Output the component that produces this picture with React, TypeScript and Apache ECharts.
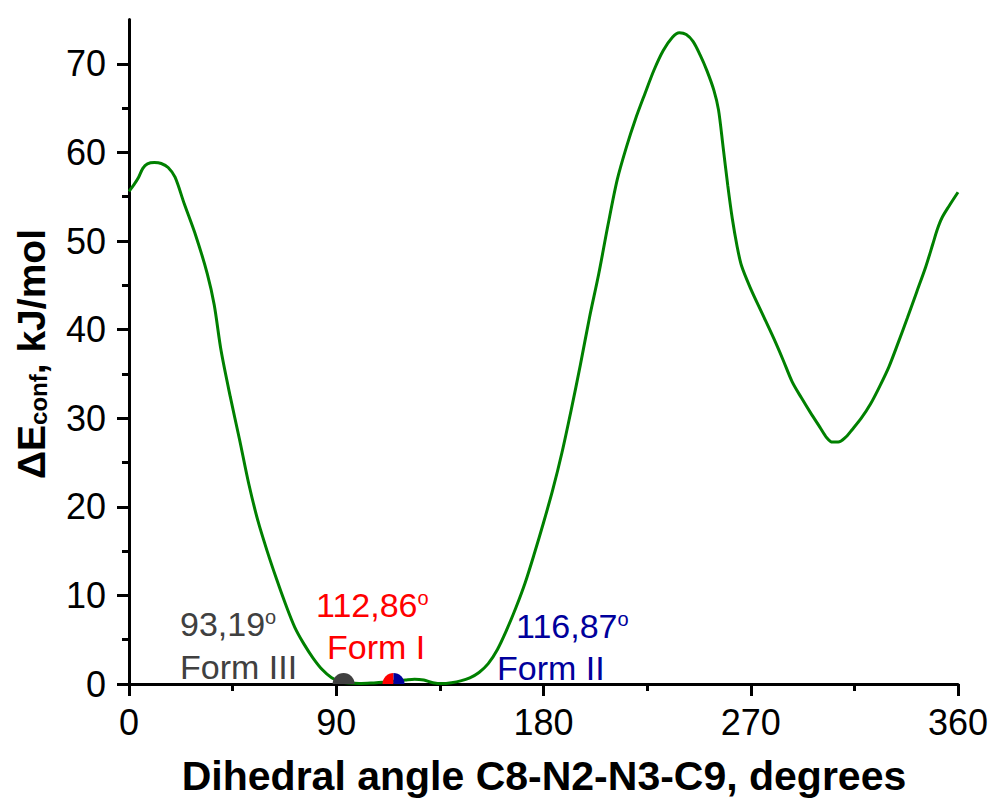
import React, { useEffect, useRef } from "react";
import * as echarts from "echarts";

// Dihedral angle (degrees) and conformational energy (kJ/mol)
const angles = [
  0, 2, 4, 6, 8, 11, 14, 17, 20, 24, 29, 34, 37, 40, 44, 48, 52, 56, 60, 64, 68, 72, 76, 80, 84, 88,
  92, 96, 100, 105, 110, 115, 120, 124, 128, 132, 136, 140, 144, 148, 152, 156, 160, 164, 168, 172,
  176, 180, 184, 188, 192, 196, 200, 204, 208, 212, 216, 220, 224, 228, 232, 236, 239, 242, 245, 248,
  251, 254, 256, 258, 260, 262, 264, 266, 270, 275, 280, 284, 288, 292, 296, 300, 303, 305.5, 308,
  311, 314, 318, 322, 326, 330, 334, 338, 342, 346, 349, 351, 353, 356, 360,
];
const energies = [
  55.6, 56.3, 57.1, 58.2, 58.7, 58.85, 58.75, 58.3, 57.2, 54.2, 50.6, 46.3, 42.8, 37.6, 32.4, 27.6,
  22.6, 18.4, 15.0, 11.9, 9.0, 6.4, 4.5, 2.9, 1.6, 0.7, 0.25, 0.1, 0.05, 0.1, 0.2, 0.3, 0.45, 0.55,
  0.45, 0.15, 0.05, 0.15, 0.35, 0.7, 1.3, 2.3, 3.9, 6.1, 8.6, 11.4, 14.7, 18.2, 21.9, 26.1, 30.9,
  36.0, 41.4, 46.3, 51.8, 56.9, 60.6, 63.8, 66.6, 69.3, 71.5, 73.0, 73.5, 73.3, 72.5, 71.0, 69.2,
  67.0, 64.8, 60.6, 56.3, 52.5, 49.5, 47.2, 44.6, 41.8, 39.0, 36.6, 34.1, 32.3, 30.6, 29.0, 27.8,
  27.3, 27.3, 27.8, 28.7, 30.0, 31.6, 33.6, 35.8, 38.5, 41.3, 44.2, 47.1, 49.6, 51.3, 52.6, 53.9, 55.5,
];

// Polymorph forms (angle, energy)
const formNames = ["Form III", "Form I", "Form II"];
const formAngles = [93.19, 112.86, 116.87];
const formLabels = ["93,19", "112,86", "116,87"];
const formEnergy = [0, 0, 0];
const formColors = ["#404040", "#ff0000", "#00009c"];

// Axis ticks
const xMin = 0;
const xMax = 360;
const xInterval = 90;
const yMin = 0;
const yMax = 75;
const yMajorTicks = [0, 10, 20, 30, 40, 50, 60, 70];
const yMinorTicks = [5, 15, 25, 35, 45, 55, 65];

const FONT = "'Liberation Sans', Arial, sans-serif";

export default function App() {
  const ref = useRef<HTMLDivElement>(null);

  useEffect(() => {
    if (!ref.current) return;
    const chart = echarts.init(ref.current, undefined, { renderer: "svg" });

    const lineData = angles.map((a, i) => [a, energies[i]]);
    // Form III: upper half-disc; Form I / Form II: shared disc split red | blue
    const pairCenter = (formAngles[1] + formAngles[2]) / 2;
    const markerData = [
      [formAngles[0], formEnergy[0], Math.PI, 2 * Math.PI, 0],
      [pairCenter, formEnergy[1], Math.PI, 1.5 * Math.PI, 1],
      [pairCenter, formEnergy[2], 1.5 * Math.PI, 2 * Math.PI, 2],
    ];

    const annot = (
      x: number,
      y: number,
      text: string,
      color: string,
      withDeg: boolean
    ) => ({
      type: "text",
      x,
      y,
      z: 20,
      style: {
        text: withDeg ? `{v|${text}}{s|o}` : `{v|${text}}`,
        rich: {
          v: { fontSize: 34, fontFamily: FONT, fill: color, textFill: color },
          s: {
            fontSize: 20,
            fontFamily: FONT,
            fill: color,
            textFill: color,
            verticalAlign: "top",
          },
        },
        fill: color,
        align: "left",
        textAlign: "left",
        verticalAlign: "middle",
        textVerticalAlign: "middle",
      },
    });

    const option: any = {
      animation: false,
      backgroundColor: "#ffffff",
      grid: {
        left: 129,
        right: 37,
        top: 19.5,
        bottom: 120,
        containLabel: false,
        outerBoundsMode: "none",
      },
      xAxis: {
        type: "value",
        min: xMin,
        max: xMax,
        interval: xInterval,
        axisLine: { show: true, onZero: false, lineStyle: { color: "#000", width: 3 } },
        axisTick: { show: true, inside: false, length: 12, lineStyle: { color: "#000", width: 3 } },
        minorTick: { show: true, splitNumber: 2, length: 7, lineStyle: { color: "#000", width: 3 } },
        axisLabel: {
          show: true,
          margin: 20,
          fontSize: 36,
          fontFamily: FONT,
          color: "#000",
        },
        splitLine: { show: false },
        minorSplitLine: { show: false },
      },
      yAxis: [
        {
          type: "value",
          position: "left",
          offset: 0,
          min: yMin,
          max: yMax,
          interval: 10,
          axisLine: { show: true, onZero: false, lineStyle: { color: "#000", width: 3 } },
          axisTick: {
            show: true,
            inside: false,
            length: 12,
            customValues: yMajorTicks,
            lineStyle: { color: "#000", width: 3 },
          },
          axisLabel: {
            show: true,
            margin: 23,
            fontSize: 36,
            fontFamily: FONT,
            color: "#000",
            customValues: yMajorTicks,
          },
          splitLine: { show: false },
        },
        {
          type: "value",
          position: "left",
          offset: 0,
          min: yMin,
          max: yMax,
          interval: 10,
          axisLine: { show: false },
          axisTick: {
            show: true,
            inside: false,
            length: 7,
            customValues: yMinorTicks,
            lineStyle: { color: "#000", width: 3 },
          },
          axisLabel: { show: false },
          splitLine: { show: false },
        },
      ],
      series: [
        {
          type: "line",
          data: lineData,
          xAxisIndex: 0,
          yAxisIndex: 0,
          showSymbol: false,
          symbol: "none",
          smooth: 0.3,
          lineStyle: { color: "#008000", width: 3 },
          z: 3,
        },
        {
          type: "custom",
          xAxisIndex: 0,
          yAxisIndex: 0,
          z: 5,
          clip: false,
          data: markerData,
          renderItem: (params: any, api: any) => {
            const p = api.coord([api.value(0), api.value(1)]);
            const ci = api.value(4);
            return {
              type: "sector",
              shape: {
                cx: p[0],
                cy: p[1],
                r0: 0,
                r: 11,
                startAngle: api.value(2),
                endAngle: api.value(3),
                clockwise: true,
              },
              style: { fill: formColors[ci] },
            };
          },
        },
      ],
      graphic: [
        {
          type: "text",
          x: 544,
          y: 776,
          style: {
            text: "Dihedral angle C8-N2-N3-C9, degrees",
            fontSize: 41,
            fontWeight: "bold",
            fontFamily: FONT,
            fill: "#000",
            align: "center",
            textAlign: "center",
            verticalAlign: "middle",
            textVerticalAlign: "middle",
          },
        },
        {
          type: "text",
          x: 31,
          y: 354,
          rotation: Math.PI / 2,
          style: {
            text: "{a|ΔE}{b|conf}{a|, kJ/mol}",
            rich: {
              a: { fontSize: 39, fontWeight: "bold", fontFamily: FONT, fill: "#000", textFill: "#000" },
              b: {
                fontSize: 24,
                fontWeight: "bold",
                fontFamily: FONT,
                fill: "#000",
                textFill: "#000",
                verticalAlign: "bottom",
              },
            },
            fill: "#000",
            align: "center",
            textAlign: "center",
            verticalAlign: "middle",
            textVerticalAlign: "middle",
          },
        },
        annot(180, 624, formLabels[0], formColors[0], true),
        annot(180, 667, formNames[0], formColors[0], false),
        annot(316, 605, formLabels[1], formColors[1], true),
        annot(327, 647, formNames[1], formColors[1], false),
        annot(516, 626, formLabels[2], formColors[2], true),
        annot(497, 668, formNames[2], formColors[2], false),
      ],
    };

    chart.setOption(option);
    return () => {
      chart.dispose();
    };
  }, []);

  return (
    <div
      ref={ref}
      style={{ position: "fixed", left: 0, top: 0, width: 995, height: 804, background: "#fff" }}
    />
  );
}
